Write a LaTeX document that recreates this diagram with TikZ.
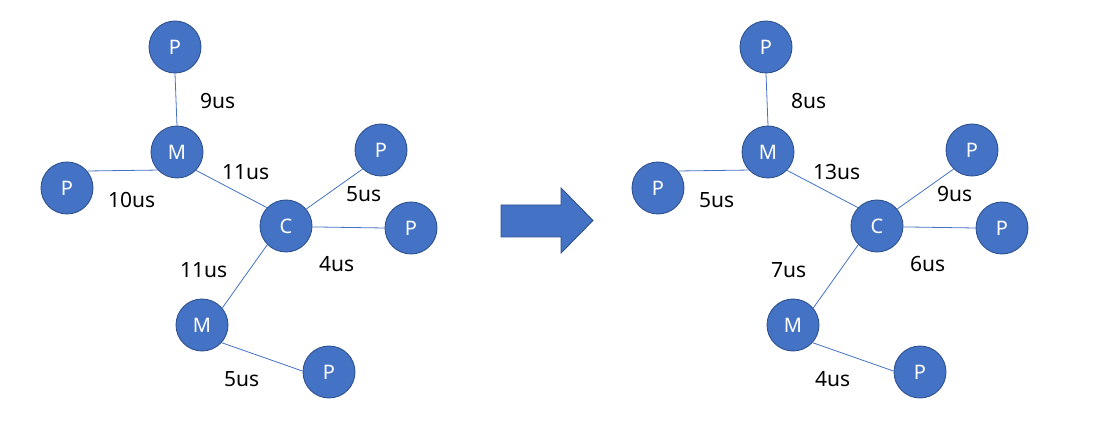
\documentclass[tikz,border=0pt]{standalone}
\usepackage{fontspec}
\setmainfont{Noto Sans}
\definecolor{nodeblue}{HTML}{4472C4}
\definecolor{nodeedge}{HTML}{2F528F}
\tikzset{
  x=1pt,y=-1pt,
  pnode/.style={circle,fill=nodeblue,draw=nodeedge,line width=0.9pt,minimum size=52pt,inner sep=0pt,text=white,font=\fontsize{20}{20}\selectfont},
  link/.style={draw=nodeblue,line width=0.8pt},
  lbl/.style={font=\fontsize{21}{21}\selectfont,text=black,inner sep=0pt,anchor=west},
}
\newcommand{\mygraph}[8]{%
  \begin{scope}[shift={(#1,0)}]
  \node[pnode] (p1#1) at (175,47) {P};
  \node[pnode] (m1#1) at (177,152) {M};
  \node[pnode] (p2#1) at (67,188) {P};
  \node[pnode] (c#1) at (286,226) {C};
  \node[pnode] (p3#1) at (381,150) {P};
  \node[pnode] (p4#1) at (411,228) {P};
  \node[pnode] (m2#1) at (202,325) {M};
  \node[pnode] (p5#1) at (329,372) {P};
  \draw[link] (p1#1.south) -- (m1#1.north);
  \draw[link] (m1#1.223) -- (p2#1.40);
  \draw[link] (m1#1.-44) -- (c#1.136);
  \draw[link] (c#1.40) -- (p3#1.226);
  \draw[link] (c#1.-2) -- (p4#1.180);
  \draw[link] (c#1.225) -- (m2#1.40);
  \draw[link] (m2#1.-42) -- (p5#1.178);
  \node[lbl] (a#1) at (200,101) {#2};
  \node[lbl] (b#1) at (222,172) {#3};
  \node[lbl] (d#1) at (108,200) {#4};
  \node[lbl] (e#1) at (346,194) {#5};
  \node[lbl] (f#1) at (319,264) {#6};
  \node[lbl] (g#1) at (180,270) {#7};
  \node[lbl] (h#1) at (224,379) {#8};
  \end{scope}}
\begin{document}
\begin{tikzpicture}
\useasboundingbox (0,0) rectangle (1104,422);
\mygraph{0}{9us}{11us}{10us}{5us}{4us}{11us}{5us}
\fill[nodeblue,draw=nodeedge,line width=0.9pt] (501,205) -- (561,205) -- (561,188) -- (593,220.5) -- (561,253) -- (561,237) -- (501,237) -- cycle;
\begin{scope}[xshift=-1pt]
\mygraph{592}{8us}{13us}{5us}{9us}{6us}{7us}{4us}
\end{scope}
\end{tikzpicture}
\end{document}
